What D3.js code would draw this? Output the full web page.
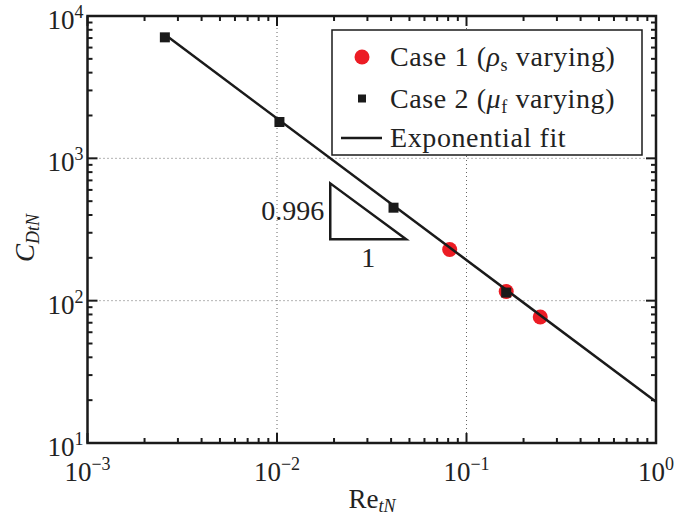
<!DOCTYPE html>
<html><head><meta charset="utf-8">
<script src="https://cdn.jsdelivr.net/npm/d3@7"></script>
<style>body{margin:0;background:#fff}svg{display:block}text{font-family:"Liberation Serif","Times New Roman",serif;fill:#222}</style>
</head><body><svg id="c" width="675" height="521"></svg>
<script>
// Data
const case1Re = [0.0815, 0.162, 0.245];
const case1Cd = [229, 116, 76.7];
const case2Re = [0.00256, 0.0103, 0.0412, 0.162];
const case2Cd = [7080, 1800, 450, 114];
const fitRe = [0.00256, 1];
const fitCd = [7400, 19.5];
const triRe = [0.0191, 0.0191, 0.048];
const triCd = [667, 270, 270];
const xTickExp = [-3, -2, -1, 0];
const yTickExp = [1, 2, 3, 4];
const legendLabels = [["Case 1 (", "ρ", "s", " varying)"], ["Case 2 (", "μ", "f", " varying)"], ["Exponential fit"]];

const svg = d3.select("#c");
const L = 87.5, R = 656, T = 16, B = 443;
const x = d3.scaleLog().domain([1e-3, 1]).range([L, R]);
const y = d3.scaleLog().domain([10, 1e4]).range([B, T]);

// grid
const g = svg.append("g");
[1e-2, 1e-1].forEach(v => g.append("line").attr("x1", x(v)).attr("x2", x(v)).attr("y1", T).attr("y2", B)
  .attr("stroke", "#666").attr("stroke-width", 1).attr("stroke-dasharray", "1,3"));
[1e2, 1e3].forEach(v => g.append("line").attr("y1", y(v)).attr("y2", y(v)).attr("x1", L).attr("x2", R)
  .attr("stroke", "#666").attr("stroke-width", 1).attr("stroke-dasharray", "1,3"));

// ticks (inward, all sides)
const xMaj = xTickExp.map(e => Math.pow(10, e));
const xMin = [];
for (let e = -3; e < 0; e++) for (let k = 2; k <= 9; k++) xMin.push(k * Math.pow(10, e));
const yMaj = yTickExp.map(e => Math.pow(10, e));
const yMin = [];
for (let e = 1; e < 4; e++) for (let k = 2; k <= 9; k++) yMin.push(k * Math.pow(10, e));
const tk = svg.append("g").attr("stroke", "#1a1a1a").attr("stroke-width", 2);
function xt(v, len) {
  tk.append("line").attr("x1", x(v)).attr("x2", x(v)).attr("y1", B).attr("y2", B - len);
  tk.append("line").attr("x1", x(v)).attr("x2", x(v)).attr("y1", T).attr("y2", T + len);
}
function yt(v, len) {
  tk.append("line").attr("y1", y(v)).attr("y2", y(v)).attr("x1", L).attr("x2", L + len);
  tk.append("line").attr("y1", y(v)).attr("y2", y(v)).attr("x1", R).attr("x2", R - len);
}
xMaj.forEach(v => xt(v, 10)); xMin.forEach(v => xt(v, 5));
yMaj.forEach(v => yt(v, 10)); yMin.forEach(v => yt(v, 5));

// tick labels
const FS = 27, SS = 18;
yTickExp.forEach(e => {
  const t = svg.append("text").attr("x", L - 4).attr("y", y(Math.pow(10, e)) + 13).attr("text-anchor", "end").attr("font-size", FS);
  t.append("tspan").text("10");
  t.append("tspan").attr("font-size", SS).attr("dy", -11).text(String(e));
});
xTickExp.forEach(e => {
  const t = svg.append("text").attr("x", x(Math.pow(10, e))).attr("y", 481).attr("text-anchor", "middle").attr("font-size", FS);
  t.append("tspan").text("10");
  t.append("tspan").attr("font-size", SS).attr("dy", -11).text(e === 0 ? "0" : "−" + Math.abs(e));
});

// axis labels
const xl = svg.append("text").attr("x", 372).attr("y", 508).attr("text-anchor", "middle").attr("font-size", FS);
xl.append("tspan").text("Re");
xl.append("tspan").attr("font-size", SS).attr("font-style", "italic").attr("dy", 4).text("tN");
const yl = svg.append("text").attr("transform", "translate(34,238) rotate(-90)").attr("text-anchor", "middle").attr("font-size", FS);
yl.append("tspan").attr("font-style", "italic").text("C");
yl.append("tspan").attr("font-size", SS).attr("font-style", "italic").attr("dy", 5).text("DtN");

// triangle
const tri = triRe.map((v, i) => [x(v), y(triCd[i])]);
svg.append("path").attr("d", d3.line()(tri) + "Z").attr("fill", "none").attr("stroke", "#1a1a1a").attr("stroke-width", 2.5);
svg.append("text").attr("x", x(triRe[0]) - 6).attr("y", (y(triCd[0]) + y(triCd[1])) / 2 + 9).attr("text-anchor", "end").attr("font-size", 28).text("0.996");
svg.append("text").attr("x", (x(triRe[1]) + x(triRe[2])) / 2).attr("y", y(triCd[1]) + 28).attr("text-anchor", "middle").attr("font-size", 28).text("1");

// points
svg.append("g").selectAll("circle").data(case1Re).join("circle")
  .attr("cx", d => x(d)).attr("cy", (d, i) => y(case1Cd[i])).attr("r", 7.5).attr("fill", "#ec1c24");
svg.append("g").selectAll("rect").data(case2Re).join("rect")
  .attr("x", d => x(d) - 5).attr("y", (d, i) => y(case2Cd[i]) - 5).attr("width", 10).attr("height", 10).attr("fill", "#1a1a1a");
svg.append("path").attr("d", d3.line()(fitRe.map((v, i) => [x(v), y(fitCd[i])])))
  .attr("stroke", "#1a1a1a").attr("stroke-width", 2.5).attr("fill", "none");

// frame
svg.append("rect").attr("x", L).attr("y", T).attr("width", R - L).attr("height", B - T)
  .attr("fill", "none").attr("stroke", "#1a1a1a").attr("stroke-width", 2.5);

// legend
const lg = svg.append("g");
lg.append("rect").attr("x", 332).attr("y", 30).attr("width", 310).attr("height", 125).attr("fill", "#fff").attr("stroke", "#1a1a1a").attr("stroke-width", 1.5);
lg.append("circle").attr("cx", 362).attr("cy", 57).attr("r", 7.5).attr("fill", "#ec1c24");
lg.append("rect").attr("x", 358).attr("y", 94.5).attr("width", 8).attr("height", 8).attr("fill", "#1a1a1a");
lg.append("line").attr("x1", 341).attr("x2", 382).attr("y1", 138).attr("y2", 138).attr("stroke", "#1a1a1a").attr("stroke-width", 2.5);
[66, 108, 147].forEach((yy, i) => {
  const t = lg.append("text").attr("x", 390).attr("y", yy).attr("font-size", 28).attr("letter-spacing", 0.6);
  const p = legendLabels[i];
  if (p.length === 1) { t.text(p[0]); return; }
  t.append("tspan").text(p[0]);
  t.append("tspan").attr("font-style", "italic").text(p[1]);
  t.append("tspan").attr("font-size", SS).attr("dy", 5).text(p[2]);
  t.append("tspan").attr("dy", -5).text(p[3]);
});
</script></body></html>
